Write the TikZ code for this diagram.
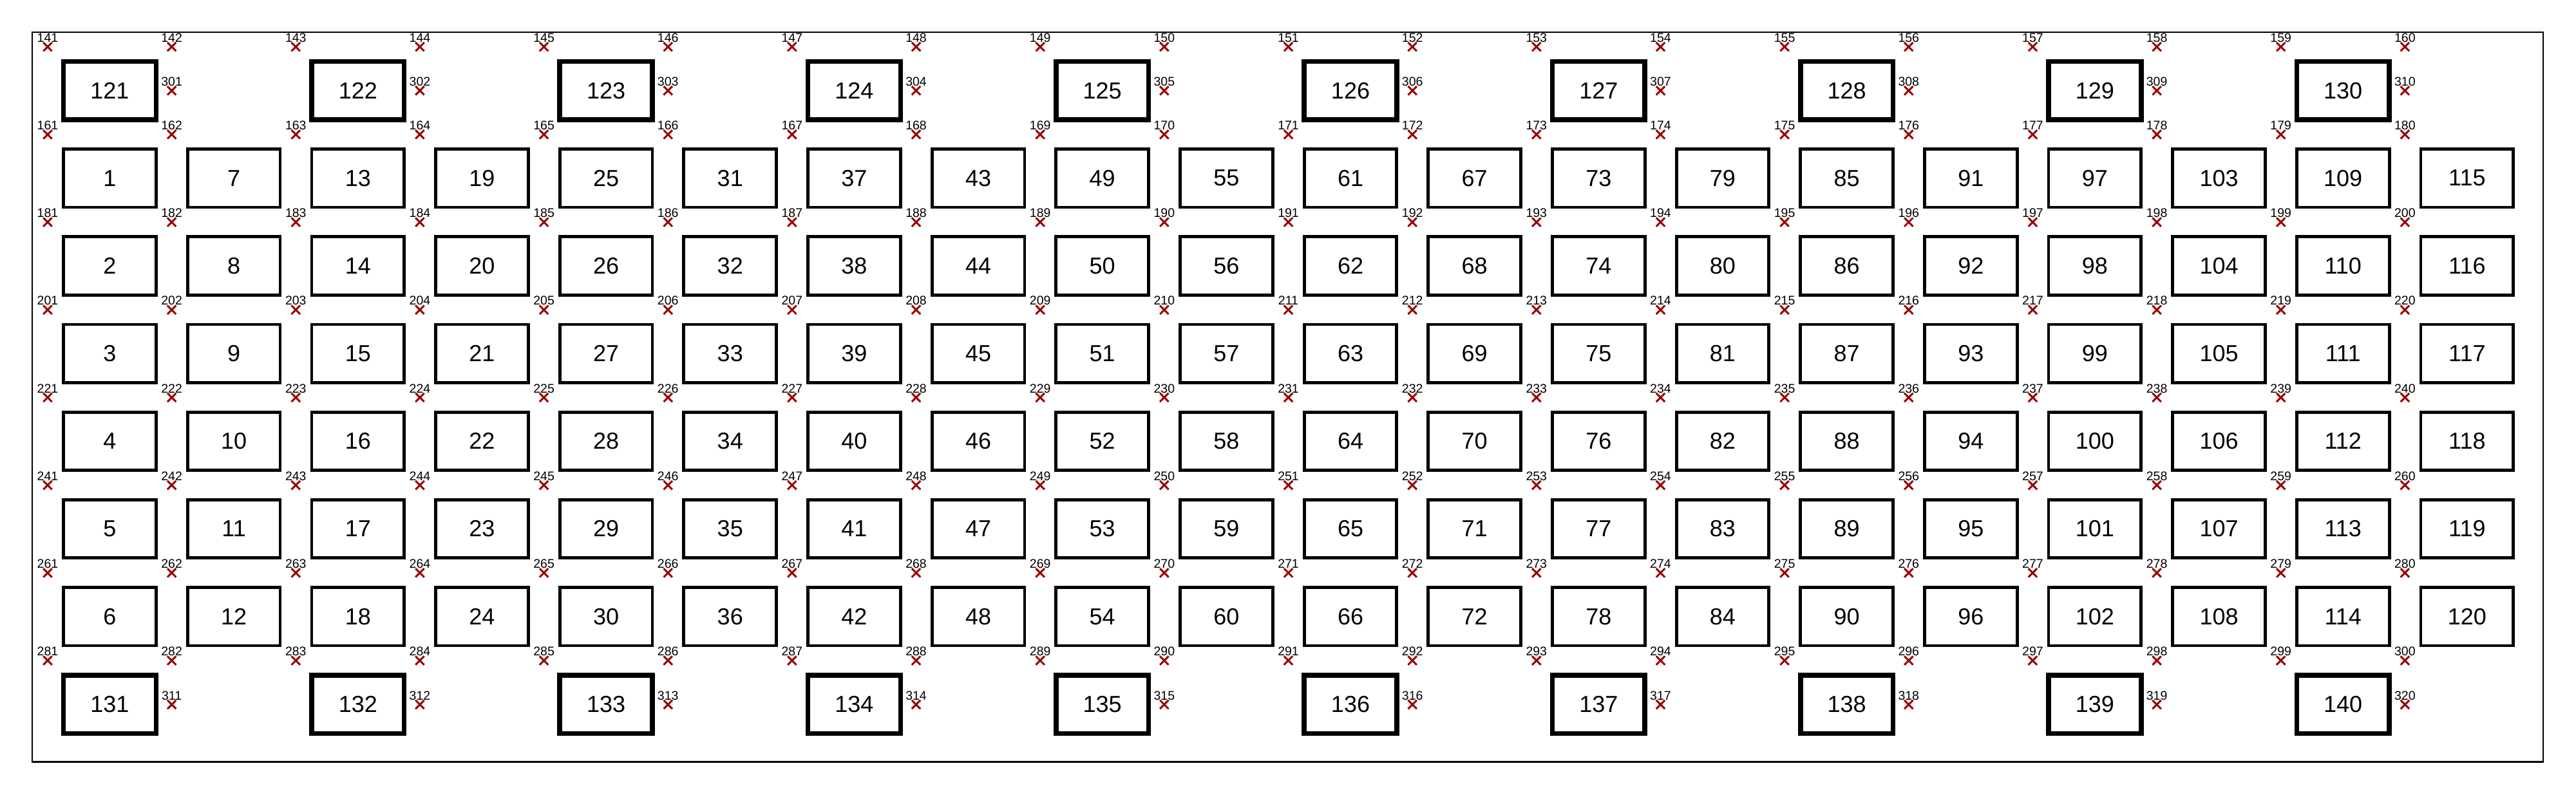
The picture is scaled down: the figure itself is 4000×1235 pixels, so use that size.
\documentclass[tikz,border=0pt]{standalone}
\usepackage{fontspec}
\setmainfont{Liberation Sans}
\usetikzlibrary{shapes.misc}
\definecolor{xred}{RGB}{155,0,0}
\begin{document}
\begin{tikzpicture}[x=0.2pt,y=-0.2pt,
  cell/.style={draw=black, line width=0.97pt, minimum width=28.75pt, minimum height=18.1pt, inner sep=0pt, font=\fontsize{7.2pt}{8pt}\selectfont},
  bigcell/.style={cell, line width=1.5pt},
  xmk/.style={cross out, draw=xred, line width=0.6pt, minimum size=2.1pt, inner sep=0pt},
  mlbl/.style={font=\fontsize{3.9pt}{4.5pt}\selectfont, inner sep=0pt, anchor=base}
]
\useasboundingbox (0,0) rectangle (4000,1235);
\draw[line width=0.45pt] (50,50) rectangle (3949,1183.5);
% regular boxes
\foreach \c in {0,...,19}{
  \foreach \r in {0,...,5}{
    \pgfmathtruncatemacro{\n}{1+6*\c+\r}
    \node[cell] (b\n) at ({170.5+192.65*\c},{276.8+136.2*\r}) {\n};
  }
}
% thick boxes top and bottom
\foreach \k in {0,...,9}{
  \pgfmathtruncatemacro{\nt}{121+\k}
  \pgfmathtruncatemacro{\nb}{131+\k}
  \pgfmathtruncatemacro{\mt}{301+\k}
  \pgfmathtruncatemacro{\mb}{311+\k}
  \node[bigcell] (b\nt) at ({170.5+192.65*2*\k},140.8) {\nt};
  \node[bigcell] (b\nb) at ({170.5+192.65*2*\k},1094.5) {\nb};
  \node[xmk] (m\mt) at ({74+192.65*(2*\k+1)},140.8) {};
  \node[mlbl] (t\mt) at ([yshift=1.46pt]m\mt.center) {\mt};
  \node[xmk] (m\mb) at ({74+192.65*(2*\k+1)},1094.5) {};
  \node[mlbl] (t\mb) at ([yshift=1.46pt]m\mb.center) {\mb};
}
% grid markers
\foreach \r in {0,...,7}{
  \foreach \c in {0,...,19}{
    \pgfmathtruncatemacro{\n}{141+20*\r+\c}
    \node[xmk] (m\n) at ({74+192.65*\c},{72.7+136.2*\r}) {};
    \node[mlbl] (t\n) at ([yshift=1.46pt]m\n.center) {\n};
  }
}
\end{tikzpicture}
\end{document}
